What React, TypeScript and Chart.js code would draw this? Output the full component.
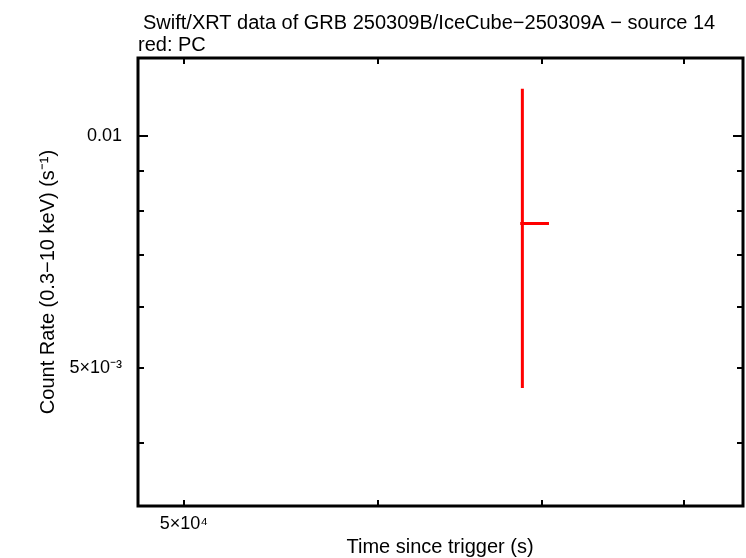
import React, { useEffect, useRef } from "react";
import { Chart, registerables } from "chart.js";

Chart.register(...registerables);

// ---- Text ----
const titleLines = [
  "Swift/XRT data of GRB 250309B/IceCube\u2212250309A \u2212 source 14",
  "red: PC",
];
const xAxisTitle = "Time since trigger (s)";
const yAxisTitle = "Count Rate (0.3\u221210 keV) (s\u207B\u00B9)";

// ---- Data (PC mode) ----
const times = [68720];
const timeErrLow = [140];
const timeErrHigh = [1740];
const rates = [7.7e-3];
const rateErrLow = [2.99e-3];
const rateErrHigh = [3.81e-3];

// ---- Axes ----
const xMin = 47890;
const xMax = 84550;
const yMin = 3.31e-3;
const yMax = 0.01262;
const xMajorTicks = [5e4];
const xMajorLabels = ["5\u00D710\u2074"];
const xMinorTicks = [5e4, 6e4, 7e4, 8e4];
const yMajorTicks = [0.01, 5e-3];
const yMajorLabels = ["0.01", "5\u00D710\u207B\u00B3"];
const yLongTicks = [0.01];
const yMinorTicks = [9e-3, 8e-3, 7e-3, 6e-3, 5e-3, 4e-3];

const FONT = "'Liberation Sans', Arial, sans-serif";
const RED = "#ff0000";

const framePlugin = {
  id: "frameAndBars",
  afterDatasetsDraw(chart: any) {
    const { ctx, chartArea } = chart;
    const xs = chart.scales.x;
    const ys = chart.scales.y;
    const { left, right, top, bottom } = chartArea;
    ctx.save();
    // error bars
    ctx.strokeStyle = RED;
    ctx.lineWidth = 3;
    ctx.lineCap = "butt";
    for (let i = 0; i < times.length; i++) {
      const px = xs.getPixelForValue(times[i]);
      const py = ys.getPixelForValue(rates[i]);
      ctx.beginPath();
      ctx.moveTo(px, ys.getPixelForValue(rates[i] + rateErrHigh[i]));
      ctx.lineTo(px, ys.getPixelForValue(rates[i] - rateErrLow[i]));
      ctx.moveTo(xs.getPixelForValue(times[i] - timeErrLow[i]), py);
      ctx.lineTo(xs.getPixelForValue(times[i] + timeErrHigh[i]), py);
      ctx.stroke();
    }
    // ticks
    ctx.strokeStyle = "#000";
    ctx.lineWidth = 2;
    ctx.beginPath();
    for (const v of xMinorTicks) {
      const px = Math.round(xs.getPixelForValue(v));
      ctx.moveTo(px, bottom);
      ctx.lineTo(px, bottom - 6);
      ctx.moveTo(px, top);
      ctx.lineTo(px, top + 6);
    }
    for (const v of yMinorTicks) {
      const py = Math.round(ys.getPixelForValue(v));
      ctx.moveTo(left, py);
      ctx.lineTo(left + 6, py);
      ctx.moveTo(right, py);
      ctx.lineTo(right - 6, py);
    }
    for (const v of yLongTicks) {
      const py = Math.round(ys.getPixelForValue(v));
      ctx.moveTo(left, py);
      ctx.lineTo(left + 10, py);
      ctx.moveTo(right, py);
      ctx.lineTo(right - 10, py);
    }
    ctx.stroke();
    // frame
    ctx.lineWidth = 3;
    ctx.strokeRect(left, top, right - left, bottom - top);

    // titles
    ctx.fillStyle = "#000";
    ctx.font = `20px ${FONT}`;
    ctx.textAlign = "left";
    ctx.textBaseline = "alphabetic";
    ctx.fillText(titleLines[0], 143, 29);
    ctx.fillText(titleLines[1], 138, 51);
    ctx.textAlign = "center";
    ctx.fillText(xAxisTitle, 440, 553);
    ctx.save();
    ctx.translate(54, 282);
    ctx.rotate(-Math.PI / 2);
    ctx.fillText(yAxisTitle, 0, 0);
    ctx.restore();
    ctx.restore();
  },
};

export default function App() {
  const ref = useRef<HTMLCanvasElement | null>(null);
  useEffect(() => {
    if (!ref.current) return;
    const chart = new Chart(ref.current, {
      type: "scatter",
      data: {
        datasets: [
          {
            label: "PC",
            data: times.map((t, i) => ({ x: t, y: rates[i] })),
            pointRadius: 0,
            borderColor: RED,
            backgroundColor: RED,
          },
        ],
      },
      options: {
        responsive: false,
        animation: false,
        events: [],
        layout: { padding: { top: 58, right: 3, bottom: 0, left: 0 } },
        plugins: {
          legend: { display: false },
          title: { display: false },
          tooltip: { enabled: false },
        },
        scales: {
          x: {
            type: "logarithmic",
            min: xMin,
            max: xMax,
            bounds: "data",
            grid: { display: false, drawTicks: false },
            border: { display: false },
            afterBuildTicks: (s: any) => {
              s.ticks = xMajorTicks.map((v) => ({ value: v }));
            },
            afterFit: (s: any) => {
              s.height = 52;
            },
            ticks: {
              autoSkip: false,
              maxRotation: 0,
              padding: 7,
              color: "#000",
              font: { family: FONT, size: 18 },
              callback: (v: any) => {
                const i = xMajorTicks.indexOf(Number(v));
                return i >= 0 ? xMajorLabels[i] : "";
              },
            },
          },
          y: {
            type: "logarithmic",
            min: yMin,
            max: yMax,
            bounds: "data",
            grid: { display: false, drawTicks: false },
            border: { display: false },
            afterBuildTicks: (s: any) => {
              s.ticks = yMajorTicks.map((v) => ({ value: v }));
            },
            afterFit: (s: any) => {
              s.width = 138;
            },
            ticks: {
              autoSkip: false,
              padding: 16,
              color: "#000",
              font: { family: FONT, size: 18 },
              callback: (v: any) => {
                const i = yMajorTicks.indexOf(Number(v));
                return i >= 0 ? yMajorLabels[i] : "";
              },
            },
          },
        },
      },
      plugins: [framePlugin],
    });
    return () => chart.destroy();
  }, []);
  return (
    <div style={{ position: "fixed", left: 0, top: 0, width: 746, height: 558, background: "#fff" }}>
      <canvas ref={ref} width={746} height={558} style={{ display: "block" }} />
    </div>
  );
}
